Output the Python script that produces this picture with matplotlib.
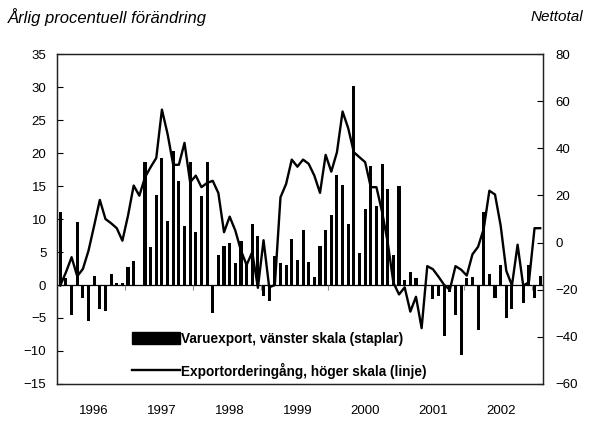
import numpy as np
import matplotlib.pyplot as plt
from matplotlib.patches import Patch
from matplotlib.lines import Line2D

plt.rcParams['font.family'] = ['Liberation Sans', 'DejaVu Sans']

# Månadsdata jan 1996 - feb 2003
ar = ['1996', '1997', '1998', '1999', '2000', '2001', '2002']

# Varuexport, årlig procentuell förändring (vänster skala, staplar)
varuexport = [
    11.0, 1.0, -4.6, 9.6, -1.9, -5.4, 1.3, -3.6, -3.9, 1.7, 0.25, 0.25,
    2.7, 3.6, -0.15, 18.6, 5.8, 13.7, 19.3, 9.7, 20.3, 15.7, 8.9, 18.7,
    8.1, 13.5, 18.7, -4.2, 4.6, 5.9, 6.4, 3.4, 6.7, 3.2, 9.2, 7.4,
    -1.7, -2.5, 4.4, 3.3, 3.0, 6.9, 3.8, 8.4, 3.5, 1.25, 5.9, 8.4,
    10.6, 16.7, 15.1, 9.3, 30.2, 4.9, 11.5, 18.0, 12.0, 18.4, 14.5, 4.6,
    15.0, 0.8, 1.9, 1.0, 0.0, 0.0, -2.1, -1.6, -7.8, -1.1, -4.6, -10.6,
    1.0, 1.15, -6.85, 11.1, 1.65, -1.9, 3.0, -5.0, -3.6, 0.0, -2.8, 3.0,
    -2.0, 1.4,
]

# Exportorderingång, nettotal (höger skala, linje)
exportorder = [
    -18.2, -12.6, -6.2, -14.3, -11.2, -3.4, 7.2, 18.1, 10.0, 8.2, 6.1, 0.8,
    11.5, 24.2, 19.9, 27.7, 32.0, 35.9, 56.4, 46.1, 33.0, 33.0, 42.3, 25.6,
    28.4, 23.5, 25.3, 26.2, 21.0, 4.4, 11.0, 5.1, -3.4, -9.5, -4.1, -19.2,
    1.0, -19.0, -18.0, 19.2, 24.9, 35.2, 32.2, 35.2, 33.4, 28.4, 21.1, 37.2,
    30.1, 38.3, 55.6, 48.5, 38.3, 36.2, 34.1, 23.5, 23.5, 13.0, 0.0, -17.0,
    -22.0, -19.0, -29.3, -23.0, -36.3, -10.0, -11.3, -14.5, -18.0, -20.0, -10.0, -11.5,
    -14.0, -5.0, -1.8, 5.8, 22.0, 20.4, 7.2, -12.0, -18.2, -0.9, -18.3, -16.8,
    6.1, 6.1,
]

manader = np.arange(len(varuexport))
ar_mitt = np.arange(len(ar)) * 12 + 6
ar_grans = np.arange(1, len(ar) + 1) * 12 - 0.5

fig = plt.figure(figsize=(5.95, 4.21), dpi=100)
ax = fig.add_axes([0.0966, 0.0879, 0.8160, 0.7838])

# Staplar och nollinje
ax.bar(manader, varuexport, width=0.55, color='black', zorder=2)
ax.axhline(0, color='black', lw=0.9, zorder=1)
ax.vlines(ar_grans, -0.8, 0, color='#888888', lw=0.8, zorder=1)

ax.set_xlim(-0.5, len(manader) - 0.5)
ax.set_ylim(-15, 35)
ax.set_yticks(np.arange(-15, 36, 5))
ax.set_xticks(ar_mitt)
ax.set_xticklabels(ar)
ax.tick_params(axis='x', length=0, pad=15, labelsize=9.5)
ax.tick_params(axis='y', direction='in', length=4, pad=8, labelsize=9.5)

# Linje på höger skala
ax2 = ax.twinx()
ax2.plot(manader, exportorder, color='black', lw=1.7, zorder=3)
ax2.set_ylim(-60, 80)
ax2.set_yticks(np.arange(-60, 81, 20))
ax2.tick_params(axis='y', direction='in', length=4, pad=9, labelsize=9.5)

for a in (ax, ax2):
    for s in a.spines.values():
        s.set_color('#222222')
        s.set_linewidth(0.9)

handles = [Patch(facecolor='black', edgecolor='black'),
           Line2D([0], [0], color='black', lw=1.7)]
labels = ['Varuexport, vänster skala (staplar)',
          'Exportorderingång, höger skala (linje)']
ax2.legend(handles, labels, loc='lower left', bbox_to_anchor=(0.128, -0.021),
           frameon=False, handlelength=3.5, handleheight=1.0, handletextpad=0.1,
           labelspacing=1.25,
           prop={'family': ['Liberation Sans Narrow', 'Liberation Sans'],
                 'weight': 'bold', 'size': 9.8})

fig.text(0.013, 0.96, 'Årlig procentuell förändring', style='italic',
         fontsize=12, ha='left', va='center')
fig.text(0.98, 0.96, 'Nettotal', style='italic', fontsize=11,
         ha='right', va='center')

plt.savefig('out.png', dpi=100)
